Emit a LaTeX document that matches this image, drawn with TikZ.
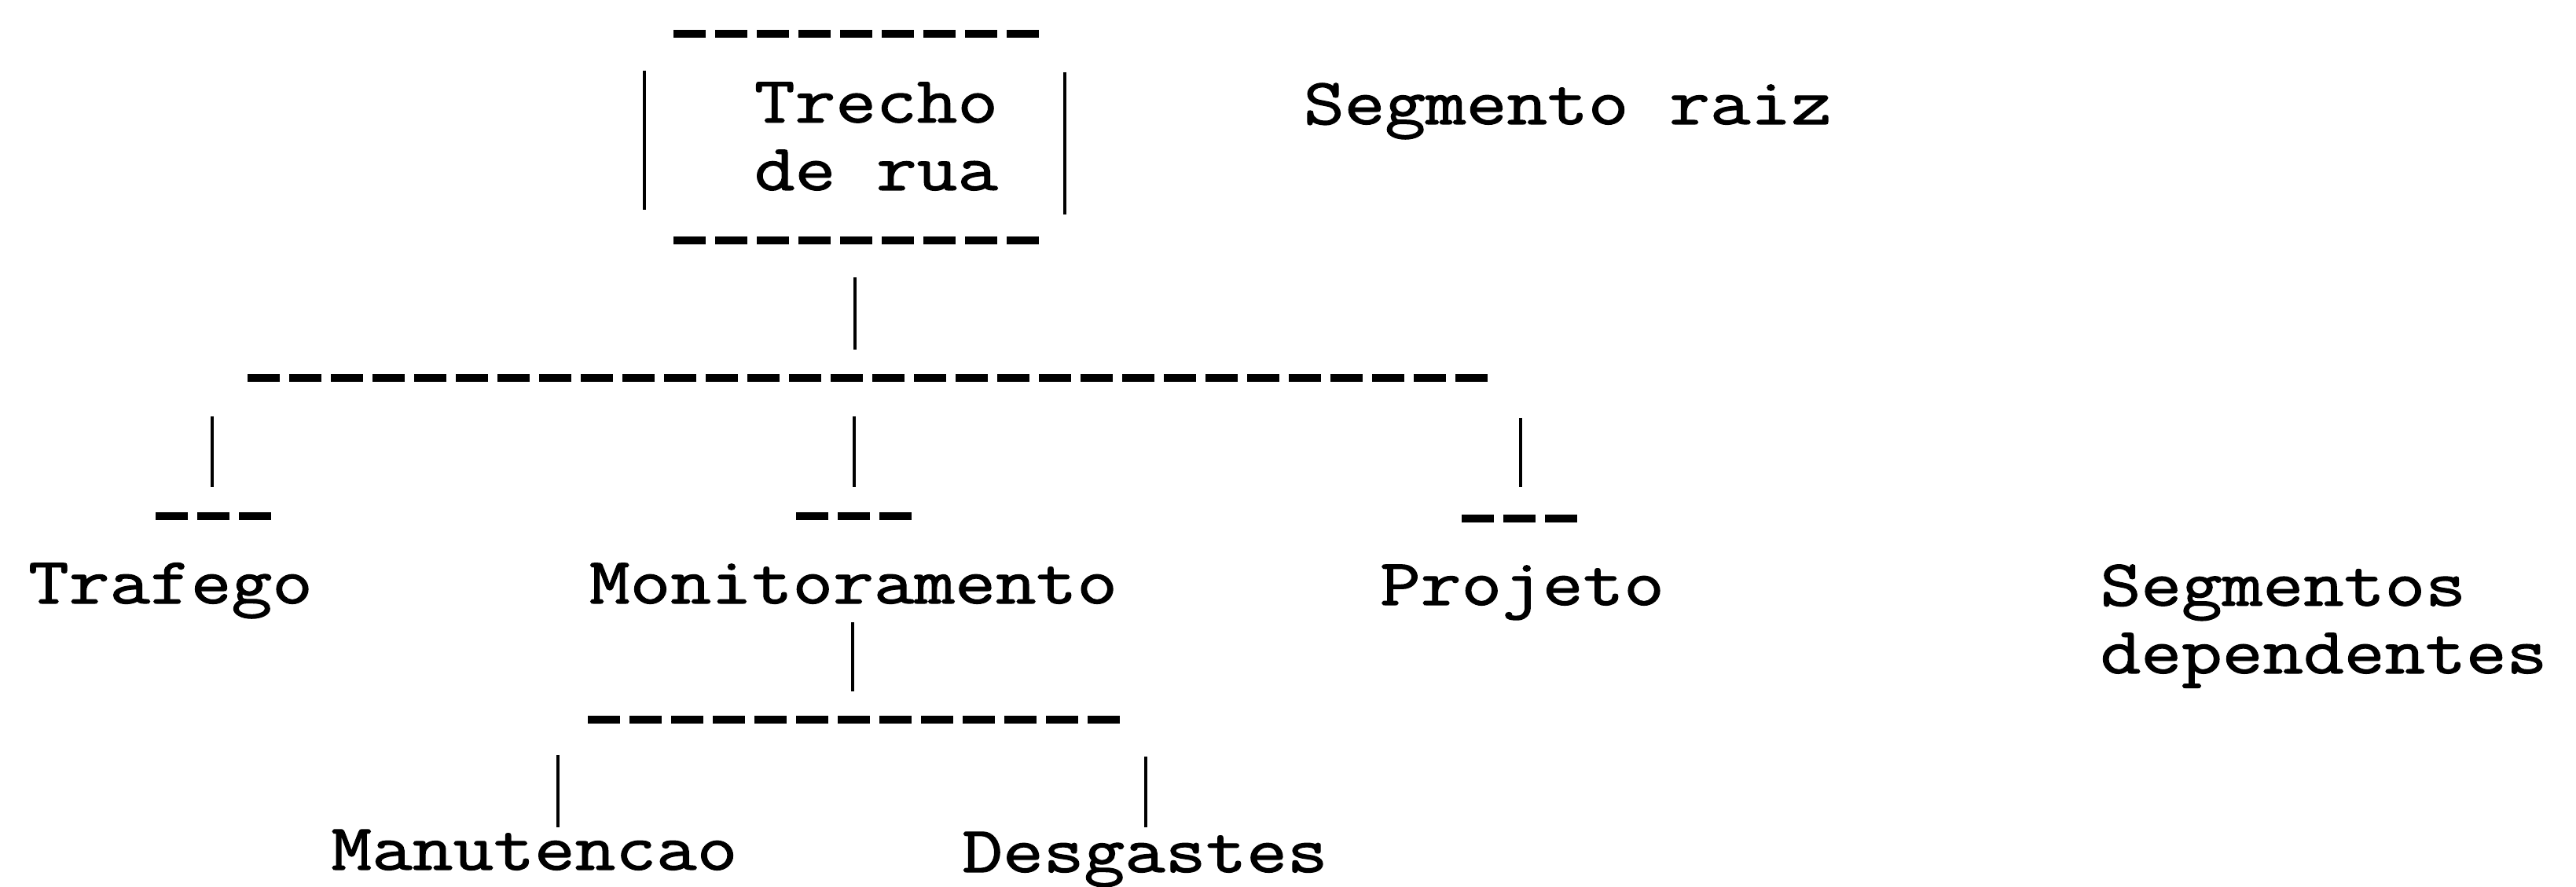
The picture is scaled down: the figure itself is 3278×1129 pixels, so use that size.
\documentclass[tikz,border=0pt]{standalone}
\usepackage{fontspec}
\newfontfamily\typewr[FakeStretch=1.2,FakeBold=1.5]{Latin Modern Mono}
\usetikzlibrary{positioning}

\begin{document}
\begin{tikzpicture}[x=0.1mm,y=-0.1mm,
    txt/.style={font=\typewr\fontsize{23.8}{24.5}\selectfont,inner sep=0pt},
    hbar/.style={line width=1.0mm,dash pattern=on 4.1mm off 1.2mm},
    vbar/.style={line width=0.45mm}]
  \useasboundingbox (0,0) rectangle (3278,1129);

  % segmento raiz
  \node[txt,anchor=north,align=center] (trecho) at (1115,104) {Trecho\\de rua};
  \node[txt,anchor=base]               (raiz)   at (1995,158) {Segmento raiz};
  \coordinate (tl) at (857,43);   \coordinate (tr) at (1322,43);
  \coordinate (bl) at (857,306);  \coordinate (br) at (1322,306);
  \draw[hbar] (tl) -- (tr);
  \draw[hbar] (bl) -- (br);
  \draw[vbar] (820,90) -- (820,267);
  \draw[vbar] (1355,92) -- (1355,273);

  % segmentos dependentes
  \node[txt,anchor=base] (trafego) at (217,768)  {Trafego};
  \node[txt,anchor=base] (monit)   at (1086,768) {Monitoramento};
  \node[txt,anchor=base] (projeto) at (1937,770) {Projeto};
  \node[txt,anchor=base] (manut)   at (680,1107) {Manutencao};
  \node[txt,anchor=base] (desg)    at (1457,1110) {Desgastes};
  \node[txt,anchor=north west,align=left] (dep) at (2672,718) {Segmentos\\dependentes};

  \coordinate (rs) at (1088,353);
  \coordinate (ll) at (315,481);  \coordinate (lr) at (1893,481);
  \draw[vbar] (rs) -- (1088,445);
  \draw[hbar] (ll) -- (lr);

  \draw[vbar] (270,530) -- (270,620);
  \draw[vbar] (1087,530) -- (1087,620);
  \draw[vbar] (1935,532) -- (1935,620);
  \draw[hbar] (198,657) -- (345,657);
  \draw[hbar] (1013,657) -- (1160,657);
  \draw[hbar] (1860,660) -- (2007,660);

  \coordinate (ms) at (1085,792);
  \coordinate (ml) at (748,916);  \coordinate (mr) at (1425,916);
  \draw[vbar] (ms) -- (1085,880);
  \draw[hbar] (ml) -- (mr);
  \draw[vbar] (710,961) -- (710,1053);
  \draw[vbar] (1458,963) -- (1458,1053);
\end{tikzpicture}
\end{document}
